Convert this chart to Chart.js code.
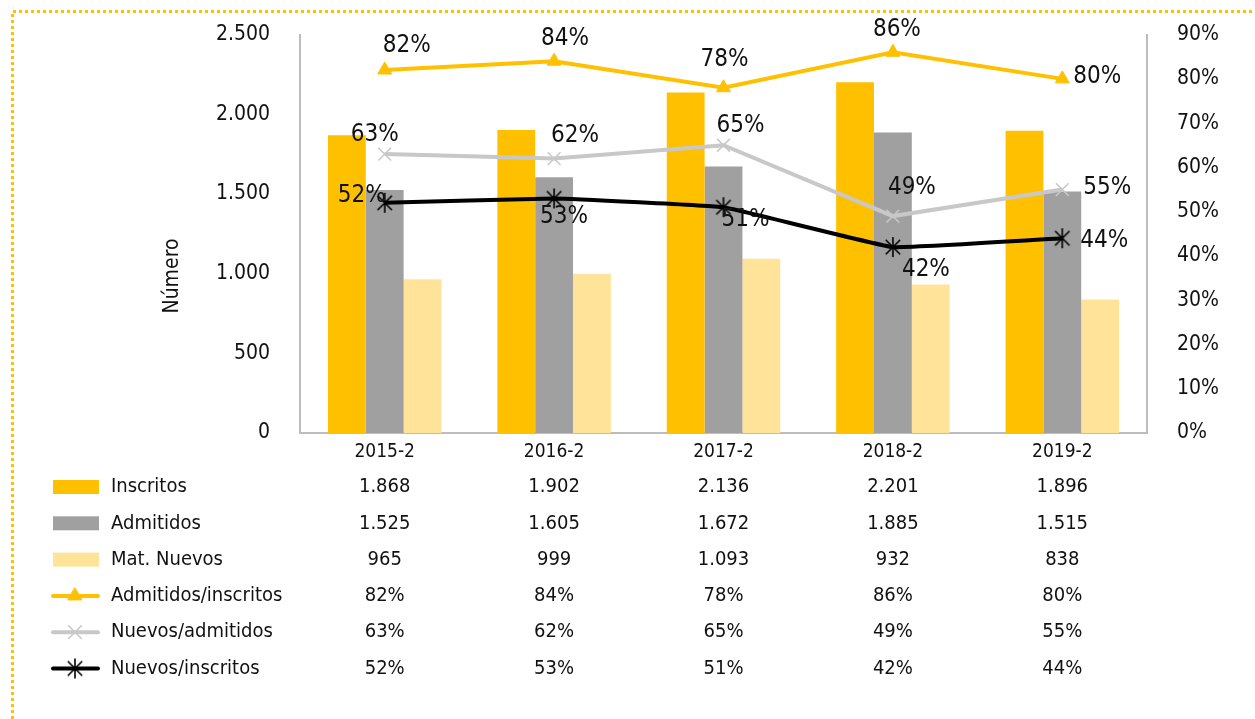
<!DOCTYPE html>
<html>
<head>
<meta charset="utf-8">
<script src="https://cdn.jsdelivr.net/npm/chart.js@4.4.0/dist/chart.umd.min.js"></script>
<style>
  html, body { margin: 0; padding: 0; background: #fff; }
  canvas { display: block; }
</style>
</head>
<body>
<canvas id="chart" width="1255" height="719"></canvas>
<script>
const periods = ['2015-2', '2016-2', '2017-2', '2018-2', '2019-2'];
const inscritos = [1868, 1902, 2136, 2201, 1896];
const admitidos = [1525, 1605, 1672, 1885, 1515];
const matNuevos = [965, 999, 1093, 932, 838];
const admitidosInscritos = [82, 84, 78, 86, 80];
const nuevosAdmitidos = [63, 62, 65, 49, 55];
const nuevosInscritos = [52, 53, 51, 42, 44];
const axisTitle = 'Número';

const FONT = "'DejaVu Sans Condensed', 'Liberation Sans Narrow', 'Liberation Sans', sans-serif";
const TEXT = '#111';
const AXIS = '#BDBDBD';

// 1.868 style thousands
const fmt = (v) => String(v).replace(/\B(?=(\d{3})+(?!\d))/g, '.');

// excel-like star marker (X plus vertical bar)
function asteriskMarker(size, color, lw) {
  const c = document.createElement('canvas');
  c.width = c.height = size;
  const g = c.getContext('2d');
  const m = size / 2;
  const r = size / 2 - 1;
  const d = r * 0.72;
  g.strokeStyle = color;
  g.lineWidth = lw;
  g.beginPath();
  g.moveTo(m, m - r);
  g.lineTo(m, m + r);
  g.moveTo(m - d, m - d);
  g.lineTo(m + d, m + d);
  g.moveTo(m + d, m - d);
  g.lineTo(m - d, m + d);
  g.stroke();
  return c;
}

const tablePlugin = {
  id: 'tableAndLabels',
  beforeDraw(chart) {
    const ctx = chart.ctx;
    ctx.save();
    ctx.strokeStyle = '#FFC000';
    ctx.lineWidth = 3;
    ctx.setLineDash([3, 3]);
    ctx.beginPath();
    ctx.moveTo(12.5, 719);
    ctx.lineTo(12.5, 11.5);
    ctx.lineTo(1255, 11.5);
    ctx.stroke();
    ctx.restore();
  },
  afterDatasetsDraw(chart) {
    const ctx = chart.ctx;
    ctx.save();
    ctx.font = `24px ${FONT}`;
    ctx.fillStyle = TEXT;
    ctx.textAlign = 'center';
    ctx.textBaseline = 'middle';
    chart.data.datasets.forEach((ds, i) => {
      if (!ds.labelOffsets) return;
      const meta = chart.getDatasetMeta(i);
      meta.data.forEach((pt, j) => {
        const [dx, dy] = ds.labelOffsets[j];
        ctx.fillText(ds.data[j] + '%', pt.x + dx, pt.y + dy);
      });
    });
    ctx.restore();
  },
  afterDraw(chart) {
    const ctx = chart.ctx;
    const x = chart.scales.x;
    ctx.save();

    // axis title
    ctx.font = `21px ${FONT}`;
    ctx.fillStyle = TEXT;
    ctx.textAlign = 'center';
    ctx.textBaseline = 'middle';
    ctx.translate(173, 276);
    ctx.rotate(-Math.PI / 2);
    ctx.fillText(axisTitle, 0, 0);
    ctx.setTransform(1, 0, 0, 1, 0, 0);

    // data table with legend keys
    const rowTop = 487;
    const rowH = 36.3;
    chart.data.datasets.forEach((ds, i) => {
      const y = rowTop + i * rowH;
      if (ds.type === 'bar') {
        ctx.fillStyle = ds.backgroundColor;
        ctx.fillRect(53, y - 7, 46, 14);
      } else {
        ctx.strokeStyle = ds.borderColor;
        ctx.lineWidth = 4;
        ctx.lineCap = 'round';
        ctx.beginPath();
        ctx.moveTo(53, y);
        ctx.lineTo(98, y);
        ctx.stroke();
        ctx.fillStyle = ds.pointBackgroundColor;
        ctx.strokeStyle = ds.pointBorderColor;
        ctx.lineWidth = ds.pointBorderWidth;
        Chart.helpers.drawPoint(ctx, {
          pointStyle: ds.pointStyle,
          radius: ds.pointRadius,
          rotation: 0,
          borderWidth: ds.pointBorderWidth,
        }, 75, y);
      }
      ctx.font = `20px ${FONT}`;
      ctx.fillStyle = TEXT;
      ctx.textAlign = 'left';
      ctx.textBaseline = 'middle';
      ctx.fillText(ds.label, 111, y);
      ctx.textAlign = 'center';
      ds.data.forEach((v, j) => {
        const txt = ds.type === 'bar' ? fmt(v) : v + '%';
        ctx.fillText(txt, x.getPixelForValue(j), y);
      });
    });
    ctx.restore();
  },
};

const ctx = document.getElementById('chart').getContext('2d');
new Chart(ctx, {
  data: {
    labels: periods,
    datasets: [
      {
        type: 'bar',
        label: 'Inscritos',
        data: inscritos,
        backgroundColor: '#FFC000',
        yAxisID: 'y',
        order: 2,
      },
      {
        type: 'bar',
        label: 'Admitidos',
        data: admitidos,
        backgroundColor: '#A0A0A0',
        yAxisID: 'y',
        order: 2,
      },
      {
        type: 'bar',
        label: 'Mat. Nuevos',
        data: matNuevos,
        backgroundColor: '#FFE399',
        yAxisID: 'y',
        order: 2,
      },
      {
        type: 'line',
        label: 'Admitidos/inscritos',
        data: admitidosInscritos,
        yAxisID: 'y1',
        borderColor: '#FFC000',
        borderWidth: 4,
        pointStyle: 'triangle',
        pointRadius: 8,
        pointBackgroundColor: '#FFC000',
        pointBorderColor: '#FFC000',
        pointBorderWidth: 1,
        order: 1,
        labelOffsets: [[22, -24], [11, -22], [1, -28], [4, -23], [35, -2]],
      },
      {
        type: 'line',
        label: 'Nuevos/admitidos',
        data: nuevosAdmitidos,
        yAxisID: 'y1',
        borderColor: '#C8C8C8',
        borderWidth: 4,
        pointStyle: 'crossRot',
        pointRadius: 9,
        pointBackgroundColor: '#C8C8C8',
        pointBorderColor: '#C8C8C8',
        pointBorderWidth: 1.5,
        order: 0,
        labelOffsets: [[-10, -19], [21, -23], [17, -20], [19, -28], [45, -2]],
      },
      {
        type: 'line',
        label: 'Nuevos/inscritos',
        data: nuevosInscritos,
        yAxisID: 'y1',
        borderColor: '#000000',
        borderWidth: 4,
        tension: 0.08,
        pointStyle: asteriskMarker(22, '#000', 1.6),
        pointRadius: 11,
        pointBackgroundColor: '#000',
        pointBorderColor: '#000',
        pointBorderWidth: 1.6,
        order: -1,
        labelOffsets: [[-23, -7], [10, 18], [22, 13], [33, 23], [42, 3]],
      },
    ],
  },
  options: {
    responsive: false,
    animation: false,
    layout: { padding: { top: 32, left: 0, right: 0, bottom: 0 } },
    datasets: {
      bar: { categoryPercentage: 0.67, barPercentage: 1.0, borderWidth: 0 },
    },
    scales: {
      x: {
        grid: { display: false },
        border: { display: true, color: AXIS, width: 2 },
        ticks: { font: { family: FONT, size: 19 }, color: TEXT, padding: 0 },
        afterFit(scale) {
          scale.height = 286;
        },
      },
      y: {
        position: 'left',
        min: 0,
        max: 2500,
        grid: { display: false },
        border: { display: true, color: AXIS, width: 2 },
        ticks: {
          stepSize: 500,
          padding: 22,
          color: TEXT,
          font: { family: FONT, size: 21 },
          callback: (v) => fmt(v),
        },
        afterFit(scale) {
          scale.width = 300;
        },
      },
      y1: {
        position: 'right',
        min: 0,
        max: 90,
        grid: { display: false },
        border: { display: true, color: AXIS, width: 2 },
        ticks: {
          stepSize: 10,
          padding: 22,
          color: TEXT,
          font: { family: FONT, size: 21 },
          callback: (v) => v + '%',
        },
        afterFit(scale) {
          scale.width = 108;
        },
      },
    },
    plugins: {
      legend: { display: false },
      tooltip: { enabled: false },
      title: { display: false },
    },
  },
  plugins: [tablePlugin],
});
</script>
</body>
</html>
